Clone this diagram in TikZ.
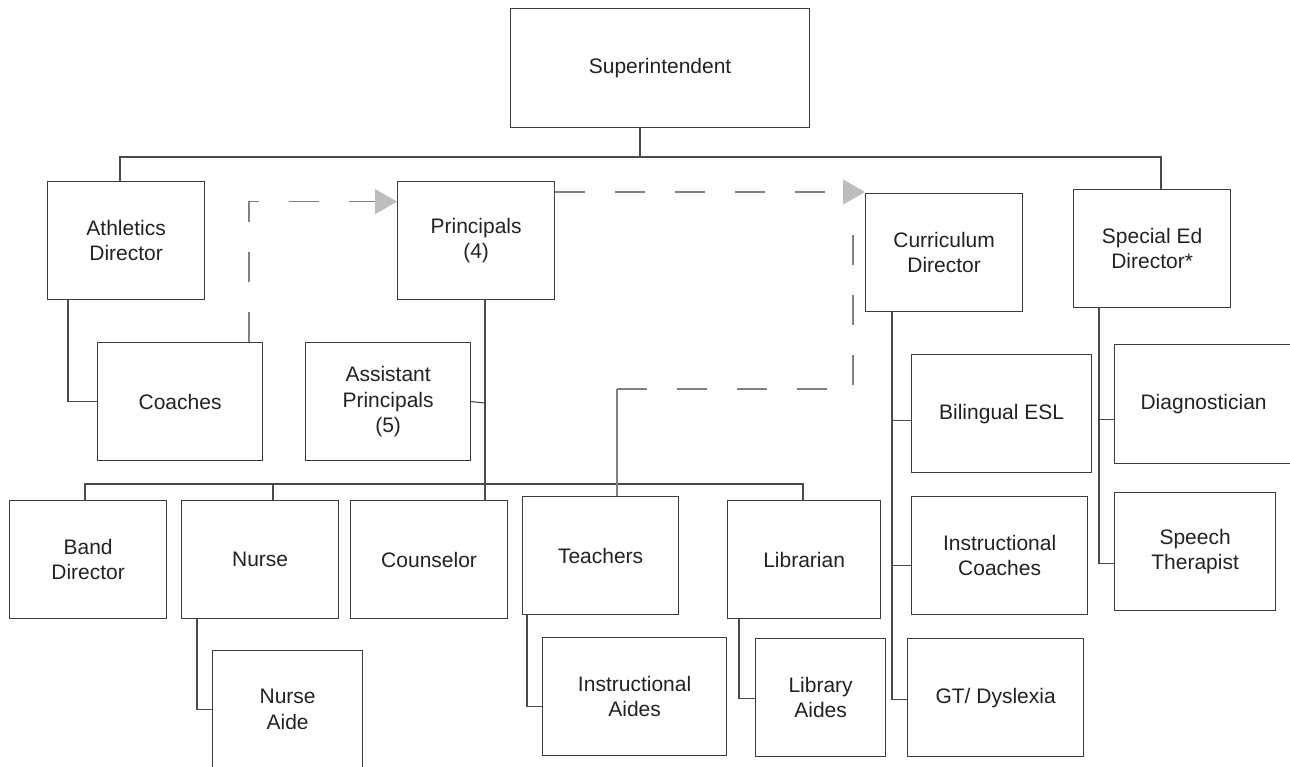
\documentclass[tikz,border=0pt]{standalone}
\usepackage{fontspec}
\setmainfont{Liberation Sans}
\usetikzlibrary{arrows.meta}
\definecolor{boxline}{HTML}{3C3C3C}
\definecolor{conline}{HTML}{4A4A4A}
\definecolor{dashgray}{HTML}{808080}
\definecolor{arrowgray}{HTML}{BDBDBD}
\definecolor{txt}{HTML}{222222}
\tikzset{
  box/.style={draw=boxline, line width=1.2pt, inner sep=0pt, align=center,
    anchor=north west, text=txt, font=\fontsize{21}{25.5}\selectfont},
  con/.style={draw=conline, line width=1.1pt},
  dashcon/.style={draw=dashgray, line width=1.3pt, dash pattern=on 30pt off 30pt},
  graycon/.style={draw=dashgray, line width=1.3pt},
  tip/.style={-{Triangle[length=22pt,width=25pt,color=arrowgray,fill=arrowgray]}}
}
\begin{document}
\begin{tikzpicture}[x=1pt,y=-1pt]
\useasboundingbox (0,0) rectangle (1290,766);
% boxes
\node[box, minimum width=299pt, minimum height=119pt] (sup) at (510,8) {Superintendent};
\node[box, minimum width=157pt, minimum height=118pt] (ath) at (47,181) {Athletics\\Director};
\node[box, minimum width=157pt, minimum height=118pt] (pri) at (397,181) {Principals\\(4)};
\node[box, minimum width=157pt, minimum height=118pt] (cur) at (865,193) {Curriculum\\Director};
\node[box, minimum width=157pt, minimum height=118pt] (spe) at (1073,189) {Special Ed\\Director*};
\node[box, minimum width=165pt, minimum height=118pt] (coa) at (97,342) {Coaches};
\node[box, minimum width=165pt, minimum height=118pt] (ap) at (305,342) {Assistant\\Principals\\(5)};
\node[box, minimum width=157pt, minimum height=118pt] (band) at (9,500) {Band\\Director};
\node[box, minimum width=157pt, minimum height=118pt] (nurse) at (181,500) {Nurse};
\node[box, minimum width=157pt, minimum height=118pt] (coun) at (350,500) {Counselor};
\node[box, minimum width=156pt, minimum height=118pt] (teach) at (522,496) {Teachers};
\node[box, minimum width=153pt, minimum height=118pt] (lib) at (727,500) {Librarian};
\node[box, minimum width=150pt, minimum height=118pt] (na) at (212,650) {Nurse\\Aide};
\node[box, minimum width=184pt, minimum height=118pt] (ia) at (542,637) {Instructional\\Aides};
\node[box, minimum width=130pt, minimum height=118pt] (la) at (755,638) {Library\\Aides};
\node[box, minimum width=180pt, minimum height=118pt] (bil) at (911,354) {Bilingual ESL};
\node[box, minimum width=176pt, minimum height=118pt] (ic) at (911,496) {Instructional\\Coaches};
\node[box, minimum width=176pt, minimum height=118pt] (gt) at (907,638) {GT/ Dyslexia};
\node[box, minimum width=178pt, minimum height=119pt] (diag) at (1114,344) {Diagnostician};
\node[box, minimum width=161pt, minimum height=118pt] (sp) at (1114,492) {Speech\\Therapist};

% top level
\coordinate (bus1) at (640,157);
\draw[con] ([xshift=130pt]sup.south west) -- (bus1);
\draw[con] ([xshift=73pt]ath.north west) |- (bus1);
\draw[con] ([xshift=88pt]spe.north west) |- (bus1);

% athletics
\draw[con] ([xshift=21pt]ath.south west) |- (coa.west);

% principals
\coordinate (pv) at (485,403);
\draw[con] ([xshift=88pt]pri.south west) -- ([xshift=135pt]coun.north west);
\draw[con] (ap.east) -- (pv);
\coordinate (bus2) at (485,484);
\draw[con] ([xshift=76pt]band.north west) |- (bus2);
\draw[con] ([xshift=92pt]nurse.north west) |- (bus2);
\draw[con] ([xshift=76pt]lib.north west) |- (bus2);

% sub-boxes
\draw[con] ([xshift=16pt]nurse.south west) |- (na.west);
\draw[con] ([xshift=5pt]teach.south west) |- ([yshift=-10pt]ia.west);
\draw[con] ([xshift=12pt]lib.south west) |- ([yshift=-1pt]la.west);

% curriculum
\draw[con] ([xshift=27pt]cur.south west) |- ([yshift=-2pt]gt.west);
\draw[con] ([yshift=-7pt]bil.west) -- ++(-19pt,0);
\draw[con] ([yshift=-10pt]ic.west) -- ++(-19pt,0);

% special ed
\draw[con] ([xshift=26pt]spe.south west) |- ([yshift=-12pt]sp.west);
\draw[con] ([yshift=-15pt]diag.west) -- ++(-15pt,0);

% dashed relations
\draw[dashcon, tip] ([xshift=152pt]coa.north west) |- ([yshift=39pt]pri.west);
\draw[dashcon, tip] ([yshift=-11pt]pri.north east) -- ([yshift=-11pt]pri.north east -| cur.west);
\coordinate (tc) at (617,389);
\coordinate (te) at (853,205);
\draw[graycon] ([xshift=95pt]teach.north west) -- (tc);
\draw[dashcon] (tc) -| (te);
\end{tikzpicture}
\end{document}
